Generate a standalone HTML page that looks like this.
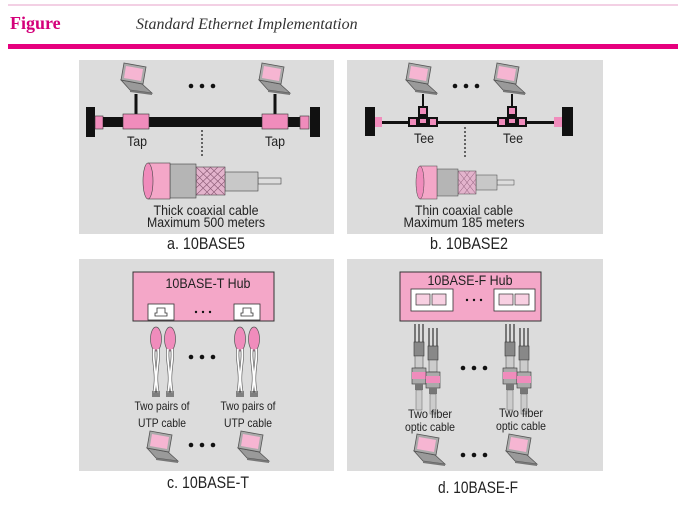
<!DOCTYPE html>
<html><head><meta charset="utf-8"><style>
html,body{margin:0;padding:0;background:#fff;width:678px;height:509px;overflow:hidden}
svg{display:block}
.t{font-family:"Liberation Sans Narrow","Liberation Sans",sans-serif;fill:#222}
</style></head><body>
<svg width="678" height="509" viewBox="0 0 678 509" xmlns="http://www.w3.org/2000/svg">
<defs>
<g id="lap">
<polygon points="3,17 24,21 34,30 12,27" fill="#9a9a9a" stroke="#555" stroke-width="0.8"/>
<polygon points="12,27 34,30 34,32 12,29" fill="#777"/>
<polygon points="6,0 28,4 25,21 3,17" fill="#aaa" stroke="#555" stroke-width="0.8"/>
<polygon points="8,3 25,6 23,18 6,15" fill="#f6b5d2"/>
</g>
<g id="utp">
<ellipse cx="5" cy="12" rx="5.5" ry="12" fill="#f08cbc" stroke="#555" stroke-width="0.7"/>
<path d="M3,22 C1,35 7,45 3,66 M7,22 C9,35 3,45 7,66" stroke="#555" stroke-width="3" fill="none"/>
<path d="M3,22 C1,35 7,45 3,66 M7,22 C9,35 3,45 7,66" stroke="#fff" stroke-width="1.8" fill="none"/>
<path d="M2,64 l0,6 M4,64 l0,6 M6,64 l0,6 M8,64 l0,6" stroke="#222" stroke-width="1"/>
</g>
<g id="fib">
<path d="M3,0 L3,20 M7,0 L7,20 M11,0 L11,20" stroke="#555" stroke-width="1.5" fill="none"/>
<rect x="2" y="18" width="10" height="14" fill="#888" stroke="#333" stroke-width="0.6"/>
<rect x="3" y="32" width="8" height="12" fill="#ccc" stroke="#555" stroke-width="0.6"/>
<rect x="0" y="44" width="14" height="16" fill="#aaa" stroke="#333" stroke-width="0.6"/>
<rect x="0" y="48" width="14" height="7" fill="#f08cbc"/>
<rect x="3" y="60" width="8" height="6" fill="#777"/>
<rect x="4" y="66" width="6" height="20" fill="#ccc" stroke="#666" stroke-width="0.5"/>
</g>
</defs>
<line x1="8" y1="5" x2="678" y2="5" stroke="#e7a0c8" stroke-width="1"/>
<text x="10" y="29" font-family="Liberation Serif,serif" font-weight="bold" font-size="18" fill="#d4007a">Figure</text>
<text x="136" y="29" font-family="Liberation Serif,serif" font-style="italic" font-size="16" fill="#333">Standard Ethernet Implementation</text>
<rect x="8" y="44" width="670" height="5" fill="#e6007e"/>

<rect x="79" y="60" width="255" height="174" fill="#dcdcdc"/>
<rect x="347" y="60" width="256" height="174" fill="#dcdcdc"/>
<rect x="79" y="259" width="255" height="212" fill="#dcdcdc"/>
<rect x="347" y="259" width="256" height="212" fill="#dcdcdc"/>

<!-- a -->
<rect x="86" y="107" width="9" height="30" fill="#111"/>
<rect x="95" y="116" width="8" height="13" fill="#f08cbc" stroke="#333" stroke-width="0.6"/>
<rect x="103" y="117" width="197" height="10" fill="#111"/>
<rect x="300" y="116" width="9" height="13" fill="#f08cbc" stroke="#333" stroke-width="0.6"/>
<rect x="310" y="107" width="10" height="30" fill="#111"/>
<line x1="136" y1="94" x2="136" y2="114" stroke="#111" stroke-width="3"/>
<line x1="275" y1="94" x2="275" y2="114" stroke="#111" stroke-width="3"/>
<rect x="123" y="114" width="26" height="15" fill="#f08cbc" stroke="#333" stroke-width="0.6"/>
<rect x="262" y="114" width="26" height="15" fill="#f08cbc" stroke="#333" stroke-width="0.6"/>
<use href="#lap" x="118" y="63"/>
<use href="#lap" x="256" y="63"/>
<circle cx="191" cy="86" r="2.3" fill="#111"/><circle cx="202" cy="86" r="2.3" fill="#111"/><circle cx="213" cy="86" r="2.3" fill="#111"/>
<text class="t" x="137" y="146" font-size="14" text-anchor="middle" textLength="20" lengthAdjust="spacingAndGlyphs">Tap</text>
<text class="t" x="275" y="146" font-size="14" text-anchor="middle" textLength="20" lengthAdjust="spacingAndGlyphs">Tap</text>
<line x1="202" y1="130" x2="202" y2="157" stroke="#111" stroke-width="1.2" stroke-dasharray="2,2"/>
<rect x="258" y="178" width="23" height="6" fill="#ddd" stroke="#444" stroke-width="0.6"/>
<rect x="225" y="172" width="33" height="19" fill="#c8c8c8" stroke="#444" stroke-width="0.6"/>
<rect x="196" y="167" width="29" height="28" fill="#e3b3cc" stroke="#444" stroke-width="0.6"/>
<path d="M196,167 l29,28 M203,167 l22,21 M210,167 l15,14 M196,174 l21,21 M196,181 l14,14 M225,167 l-29,28 M218,167 l-22,21 M211,167 l-15,14 M225,174 l-21,21 M225,181 l-14,14" stroke="#8a5a75" stroke-width="0.6"/>
<rect x="170" y="164" width="26" height="34" fill="#b5b5b5" stroke="#444" stroke-width="0.6"/>
<rect x="148" y="163" width="22" height="36" fill="#f4a7c8" stroke="#444" stroke-width="0.6"/>
<ellipse cx="148" cy="181" rx="5" ry="18" fill="#f08cbc" stroke="#444" stroke-width="0.6"/>
<text class="t" x="206" y="215" font-size="14" text-anchor="middle" textLength="105" lengthAdjust="spacingAndGlyphs">Thick coaxial cable</text>
<text class="t" x="206" y="227" font-size="14" text-anchor="middle" textLength="118" lengthAdjust="spacingAndGlyphs">Maximum 500 meters</text>
<text class="t" x="206" y="249" font-size="17" text-anchor="middle" textLength="78" lengthAdjust="spacingAndGlyphs">a. 10BASE5</text>

<!-- b -->
<rect x="365" y="107" width="10" height="29" fill="#111"/>
<rect x="375" y="117" width="7" height="10" fill="#f08cbc"/>
<rect x="382" y="121" width="172" height="3" fill="#111"/>
<rect x="554" y="117" width="8" height="10" fill="#f08cbc"/>
<rect x="562" y="107" width="11" height="29" fill="#111"/>
<line x1="423" y1="94" x2="423" y2="108" stroke="#111" stroke-width="2"/>
<line x1="512" y1="94" x2="512" y2="108" stroke="#111" stroke-width="2"/>
<g fill="#111">
<rect x="418" y="106" width="10" height="11"/><rect x="408" y="117" width="30" height="10"/>
<rect x="507" y="106" width="10" height="11"/><rect x="497" y="117" width="30" height="10"/>
</g>
<g fill="#f08cbc">
<rect x="420" y="108" width="6" height="6"/><rect x="410" y="119" width="6" height="6"/><rect x="430" y="119" width="6" height="6"/><rect x="420" y="119" width="6" height="4"/>
<rect x="509" y="108" width="6" height="6"/><rect x="499" y="119" width="6" height="6"/><rect x="519" y="119" width="6" height="6"/><rect x="509" y="119" width="6" height="4"/>
</g>
<use href="#lap" x="403" y="63"/>
<use href="#lap" x="491" y="63"/>
<circle cx="455" cy="86" r="2.3" fill="#111"/><circle cx="466" cy="86" r="2.3" fill="#111"/><circle cx="477" cy="86" r="2.3" fill="#111"/>
<text class="t" x="424" y="143" font-size="14" text-anchor="middle" textLength="20" lengthAdjust="spacingAndGlyphs">Tee</text>
<text class="t" x="513" y="143" font-size="14" text-anchor="middle" textLength="20" lengthAdjust="spacingAndGlyphs">Tee</text>
<line x1="465" y1="127" x2="465" y2="157" stroke="#111" stroke-width="1.2" stroke-dasharray="2,2"/>
<rect x="497" y="180" width="17" height="5" fill="#ddd" stroke="#444" stroke-width="0.5"/>
<rect x="476" y="175" width="21" height="15" fill="#c8c8c8" stroke="#444" stroke-width="0.5"/>
<rect x="458" y="171" width="18" height="23" fill="#e3b3cc" stroke="#444" stroke-width="0.5"/>
<path d="M458,171 l18,23 M464,171 l12,15 M458,179 l12,15 M476,171 l-18,23 M470,171 l-12,15 M476,179 l-12,15" stroke="#8a5a75" stroke-width="0.5"/>
<rect x="437" y="169" width="21" height="27" fill="#b5b5b5" stroke="#444" stroke-width="0.5"/>
<rect x="420" y="166" width="17" height="33" fill="#f4a7c8" stroke="#444" stroke-width="0.5"/>
<ellipse cx="420" cy="182.5" rx="4" ry="16.5" fill="#f08cbc" stroke="#444" stroke-width="0.5"/>
<text class="t" x="464" y="215" font-size="14" text-anchor="middle" textLength="98" lengthAdjust="spacingAndGlyphs">Thin coaxial cable</text>
<text class="t" x="464" y="227" font-size="14" text-anchor="middle" textLength="121" lengthAdjust="spacingAndGlyphs">Maximum  185 meters</text>
<text class="t" x="469" y="249" font-size="17" text-anchor="middle" textLength="78" lengthAdjust="spacingAndGlyphs">b. 10BASE2</text>

<!-- c -->
<rect x="133" y="272" width="141" height="49" fill="#f4a7c8" stroke="#333" stroke-width="1"/>
<text class="t" x="208" y="288" font-size="14" text-anchor="middle" textLength="85" lengthAdjust="spacingAndGlyphs">10BASE-T Hub</text>
<rect x="148" y="304" width="26" height="16" fill="#fff" stroke="#333" stroke-width="0.8"/>
<rect x="234" y="304" width="26" height="16" fill="#fff" stroke="#333" stroke-width="0.8"/>
<path d="M155,316 h12 v-3 h-2 v-5 h-8 v5 h-2 z M241,316 h12 v-3 h-2 v-5 h-8 v5 h-2 z" fill="#fff" stroke="#333" stroke-width="0.8"/>
<circle cx="196" cy="312" r="1.2" fill="#111"/><circle cx="203" cy="312" r="1.2" fill="#111"/><circle cx="210" cy="312" r="1.2" fill="#111"/>
<use href="#utp" x="151" y="327"/><use href="#utp" x="165" y="327"/>
<use href="#utp" x="235" y="327"/><use href="#utp" x="249" y="327"/>
<circle cx="191" cy="357" r="2.3" fill="#111"/><circle cx="202" cy="357" r="2.3" fill="#111"/><circle cx="213" cy="357" r="2.3" fill="#111"/>
<text class="t" x="162" y="410" font-size="12" text-anchor="middle" textLength="55" lengthAdjust="spacingAndGlyphs">Two pairs of</text>
<text class="t" x="162" y="427" font-size="12" text-anchor="middle" textLength="48" lengthAdjust="spacingAndGlyphs">UTP cable</text>
<text class="t" x="248" y="410" font-size="12" text-anchor="middle" textLength="55" lengthAdjust="spacingAndGlyphs">Two pairs of</text>
<text class="t" x="248" y="427" font-size="12" text-anchor="middle" textLength="48" lengthAdjust="spacingAndGlyphs">UTP cable</text>
<use href="#lap" x="144" y="431"/>
<use href="#lap" x="235" y="431"/>
<circle cx="191" cy="445" r="2.3" fill="#111"/><circle cx="202" cy="445" r="2.3" fill="#111"/><circle cx="213" cy="445" r="2.3" fill="#111"/>
<text class="t" x="208" y="488" font-size="17" text-anchor="middle" textLength="82" lengthAdjust="spacingAndGlyphs">c. 10BASE-T</text>

<!-- d -->
<rect x="400" y="272" width="141" height="49" fill="#f4a7c8" stroke="#333" stroke-width="1"/>
<text class="t" x="470" y="285" font-size="14" text-anchor="middle" textLength="85" lengthAdjust="spacingAndGlyphs">10BASE-F  Hub</text>
<rect x="411" y="289" width="42" height="22" fill="#fff" stroke="#333" stroke-width="0.8"/>
<rect x="494" y="289" width="41" height="22" fill="#fff" stroke="#333" stroke-width="0.8"/>
<g fill="#f8d0e2" stroke="#333" stroke-width="0.7">
<rect x="416" y="294" width="14" height="11"/><rect x="432" y="294" width="14" height="11"/>
<rect x="499" y="294" width="14" height="11"/><rect x="515" y="294" width="14" height="11"/>
</g>
<circle cx="467" cy="300" r="1.2" fill="#111"/><circle cx="474" cy="300" r="1.2" fill="#111"/><circle cx="481" cy="300" r="1.2" fill="#111"/>
<use href="#fib" x="412" y="324"/><use href="#fib" x="426" y="328"/>
<use href="#fib" x="503" y="324"/><use href="#fib" x="517" y="328"/>
<circle cx="463" cy="368" r="2.3" fill="#111"/><circle cx="474" cy="368" r="2.3" fill="#111"/><circle cx="485" cy="368" r="2.3" fill="#111"/>
<text class="t" x="430" y="418" font-size="12" text-anchor="middle" textLength="44" lengthAdjust="spacingAndGlyphs">Two fiber</text>
<text class="t" x="430" y="431" font-size="12" text-anchor="middle" textLength="50" lengthAdjust="spacingAndGlyphs">optic cable</text>
<text class="t" x="521" y="417" font-size="12" text-anchor="middle" textLength="44" lengthAdjust="spacingAndGlyphs">Two fiber</text>
<text class="t" x="521" y="430" font-size="12" text-anchor="middle" textLength="50" lengthAdjust="spacingAndGlyphs">optic cable</text>
<use href="#lap" x="411" y="434"/>
<use href="#lap" x="503" y="434"/>
<circle cx="463" cy="455" r="2.3" fill="#111"/><circle cx="474" cy="455" r="2.3" fill="#111"/><circle cx="485" cy="455" r="2.3" fill="#111"/>
<text class="t" x="478" y="493" font-size="17" text-anchor="middle" textLength="80" lengthAdjust="spacingAndGlyphs">d. 10BASE-F</text>
</svg>
</body></html>
